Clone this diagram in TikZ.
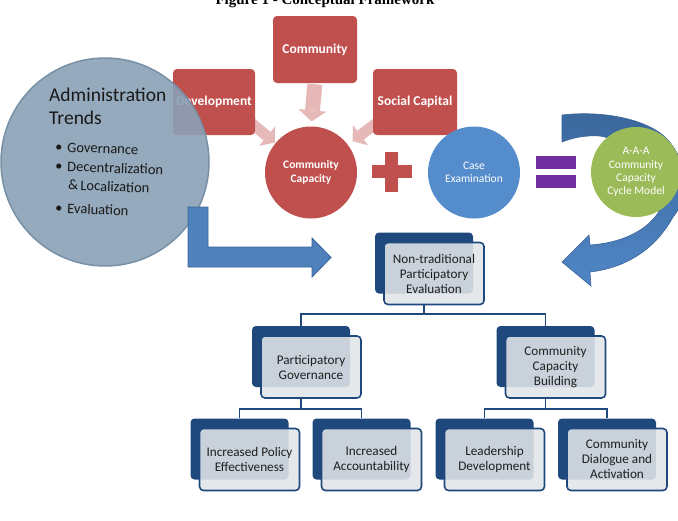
\documentclass[tikz,border=0pt]{standalone}
\usepackage{fontspec}
\setmainfont{Carlito}
\newfontfamily\titlefont{Liberation Serif}
\usetikzlibrary{arrows.meta,calc}
\definecolor{cred}{HTML}{C0504D}
\definecolor{cpink}{HTML}{E6B9B8}
\definecolor{cblue}{HTML}{4F81BD}
\definecolor{cblueD}{HTML}{3B6597}
\definecolor{ccase}{HTML}{548CCC}
\definecolor{cgreen}{HTML}{9BBB59}
\definecolor{cpurple}{HTML}{7030A0}
\definecolor{cgray}{HTML}{8AA1B6}
\definecolor{cgrayD}{HTML}{7890A6}
\definecolor{cnavy}{HTML}{1F497D}
\definecolor{cfront}{HTML}{E1E5E9}
\definecolor{carcT}{HTML}{3A679C}
\definecolor{carcB}{HTML}{5086C6}
\tikzset{
  redbox/.style={rectangle, fill=cred, rounded corners=4pt, text=white,
    font=\fontsize{13.5}{15}\selectfont\bfseries, align=center, inner sep=0pt},
  bigdisc/.style={circle, minimum size=92pt, inner sep=0pt, text=white,
    align=center, font=\fontsize{11.5}{13.3}\selectfont},
  pinkarrow/.style={draw=cpink, line width=15pt,
    -{Triangle[width=28pt,length=11pt,line width=0pt]}},
  pinkdiag/.style={draw=cpink, line width=11pt,
    -{Triangle[width=25pt,length=10pt,line width=0pt]}},
  backbox/.style={rectangle, rounded corners=4pt, fill=cnavy,
    minimum width=98pt, minimum height=61pt, inner sep=0pt},
  frontbox/.style={rectangle, rounded corners=4pt, draw=cnavy, line width=1.6pt,
    fill=cfront, fill opacity=0.88, text opacity=1, minimum width=100pt,
    minimum height=62pt, align=center, inner sep=0pt,
    font=\fontsize{13.2}{15}\selectfont, text=black!88},
  conn/.style={draw=cnavy, line width=1.8pt},
  admtitle/.style={anchor=west, font=\fontsize{19.5}{22}\selectfont, text=black!90, inner sep=0pt},
  admitem/.style={anchor=west, font=\fontsize{14.5}{18}\selectfont, text=black!90, inner sep=0pt, rotate=-2},
}
\begin{document}
\begin{tikzpicture}[x=1pt,y=-1pt]
\useasboundingbox (0,0) rectangle (678,520);
\fill[white] (0,0) rectangle (678,520);

% title (cut by the top edge, as in the reference)
\node[anchor=base, inner sep=0pt, font=\titlefont\bfseries\fontsize{15}{17}\selectfont]
  (title) at (325,4) {Figure 1 - Conceptual Framework};

% curved arrow round the cycle model
\path[draw=cblueD, line width=0.6pt, top color=carcT, bottom color=carcB]
  (562,115) .. controls (605,110) and (650,120) .. (668,140)
  .. controls (690,165) and (688,200) .. (673,217)
  .. controls (655,250) and (625,268) .. (590,272)
  -- (591,286) -- (562,262) -- (589,235) -- (590,245)
  .. controls (620,243) and (645,232) .. (658,213)
  .. controls (668,190) and (650,145) .. (600,136)
  .. controls (585,135) and (572,138) .. (562,142) -- cycle;

% pink arrow tails
\coordinate (pa) at (250,122);
\coordinate (pb) at (378,122);

% red boxes and circle
\node[bigdisc, fill=cred, font=\fontsize{11.5}{13.3}\selectfont\bfseries] (cc) at (311,172.5) {Community\\Capacity};
\draw[pinkdiag, shorten >=47pt] (pa) -- (cc.center);
\draw[pinkdiag, shorten >=52pt] (pb) -- (cc.center);
\node[redbox, minimum width=84pt, minimum height=67pt] (com) at (315,49.5) {Community};
\node[redbox, minimum width=82pt, minimum height=66pt] (dev) at (214,102) {Development};
\node[redbox, minimum width=84pt, minimum height=66pt] (soc) at (415,102) {Social Capital};
\draw[pinkarrow, shorten <=1pt, shorten >=5pt] (com.south) -- (cc.north);

% plus
\node[fill=cred, minimum width=40pt, minimum height=13pt, inner sep=0pt] (plush) at (392,171.5) {};
\node[fill=cred, minimum width=13pt, minimum height=40pt, inner sep=0pt] (plusv) at (391.5,172) {};

% case examination
\node[bigdisc, fill=ccase] (case) at (474,172.5) {Case\\Examination};

% equals
\node[fill=cpurple, minimum width=40pt, minimum height=13pt, inner sep=0pt] (eq1) at (555.5,162.5) {};
\node[fill=cpurple, minimum width=40pt, minimum height=13pt, inner sep=0pt] (eq2) at (555.5,181.5) {};

% cycle model
\node[bigdisc, fill=cgreen, minimum size=90pt] (aaa) at (636,172) {A-A-A\\Community\\Capacity\\Cycle Model};

% administration trends circle
\node[circle, minimum size=208pt, inner sep=0pt, fill=cgray, fill opacity=0.9,
  draw=cgrayD, line width=1.5pt] (admc) at (105,162) {};
\node[admtitle] (adm1) at (49,95) {Administration};
\node[admtitle] (adm2) at (49,118) {Trends};
\node[admitem] (b1) at (55,147) {•\hspace{5pt}Governance};
\node[admitem] (b2) at (55,166) {•\hspace{5pt}Decentralization};
\node[admitem] (b3) at (68,185) {\&\,Localization};
\node[admitem] (b4) at (55,208) {•\hspace{5pt}Evaluation};

% L-shaped block arrow
\path[fill=cblue, draw=cblueD, line width=0.8pt]
  (188,207) -- (208,207) -- (208,247) -- (312,247) -- (312,238) -- (331,257.5)
  -- (312,277) -- (312,267) -- (188,267) -- cycle;

% tree
\node[backbox] (rootb) at (424,263) {};
\node[frontbox] (root) at (434,273.5) {Non-traditional\\Participatory\\Evaluation};
\node[backbox] (pgb) at (301,356.5) {};
\node[frontbox] (pg) at (311,367) {Participatory\\Governance};
\node[backbox] (ccbb) at (545.5,356.5) {};
\node[frontbox] (ccb) at (555.5,367) {Community\\Capacity\\Building};
\node[backbox] (l3ab) at (239.5,449) {};
\node[frontbox] (l3a) at (249.5,459.5) {Increased Policy\\Effectiveness};
\node[backbox] (l3bb) at (361.5,449) {};
\node[frontbox] (l3b) at (371.5,459.5) {Increased\\Accountability};
\node[backbox] (l3cb) at (484.5,449) {};
\node[frontbox] (l3c) at (494.5,459.5) {Leadership\\Development};
\node[backbox] (l3db) at (607,449) {};
\node[frontbox] (l3d) at (617,459.5) {Community\\Dialogue and\\Activation};

\draw[conn] (rootb.center |- root.south) -- ++(0,9) -| (pgb.north);
\draw[conn] (rootb.center |- root.south) -- ++(0,9) -| (ccbb.north);
\draw[conn] (pgb.center |- pg.south) -- ++(0,10) -| (l3ab.north);
\draw[conn] (pgb.center |- pg.south) -- ++(0,10) -| (l3bb.north);
\draw[conn] (ccbb.center |- ccb.south) -- ++(0,10) -| (l3cb.north);
\draw[conn] (ccbb.center |- ccb.south) -- ++(0,10) -| (l3db.north);
\end{tikzpicture}
\end{document}
